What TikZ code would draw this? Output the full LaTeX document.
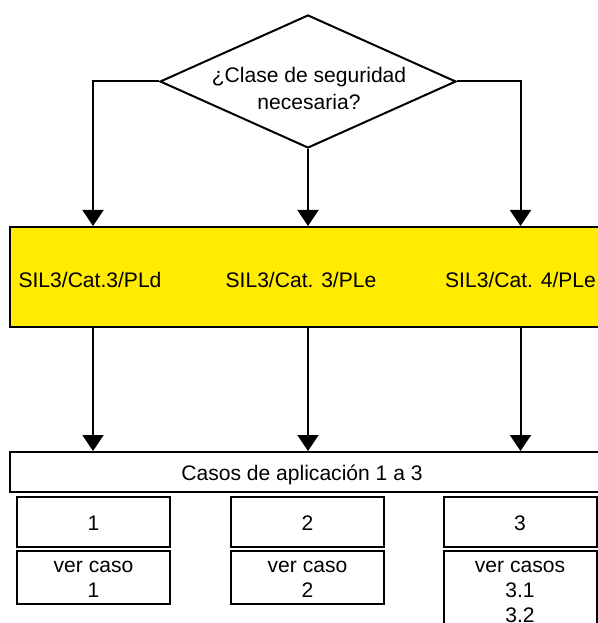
\documentclass[tikz,border=0pt]{standalone}
\usepackage{fontspec}
\setmainfont{Liberation Sans}
\usetikzlibrary{shapes.geometric,arrows.meta}
\newdimen\pxu \pxu=0.75pt
\definecolor{levelyellow}{RGB}{255,236,0}
\begin{document}
\begin{tikzpicture}[x=0.75pt,y=-0.75pt,
  line width=1.5pt,
  every node/.style={inner sep=0pt},
  % text nodes are placed by the baseline of their last line
  txt/.style={font=\fontsize{15.8}{18.75}\selectfont, anchor=base, align=center},
  box/.style={draw, rectangle, minimum width=153\pxu, minimum height=50\pxu},
  flow/.style={-{Triangle[width=15.75pt,length=12pt]}},
]
\useasboundingbox (0,0) rectangle (598,623);
\clip (0,0) rectangle (598,623);

% column positions
\coordinate (c1) at (93,0);
\coordinate (c3) at (520.5,0);

% decision
\node[diamond, draw, shape aspect=2.2, minimum width=296\pxu, minimum height=133\pxu]
  (q) at (308,81.5) {};
\node[txt, font=\fontsize{15.8}{20.25}\selectfont] (qtxt) at (309,110) {¿Clase de seguridad\\necesaria?};

% safety levels
\node[draw, fill=levelyellow, minimum width=620\pxu, minimum height=100\pxu] (lvl) at (319.5,277) {};
\node[txt] (s1) at (90,287) {SIL3/Cat.3/PLd};
\node[txt] (s2) at (301,287) {SIL3/Cat. 3/PLe};
\node[txt] (s3) at (520.5,287) {SIL3/Cat. 4/PLe};

% application cases
\node[draw, minimum width=620\pxu, minimum height=40\pxu] (cas) at (319.5,472) {};
\node[txt] (castxt) at (302,480) {Casos de aplicación 1 a 3};

\node[box] (n1) at (93.5,522) {};
\node[box] (n2) at (307.5,522) {};
\node[box] (n3) at (520,522) {};
\node[txt] (n1t) at (93.5,530.5) {1};
\node[txt] (n2t) at (307.5,530.5) {2};
\node[txt] (n3t) at (520,530.5) {3};

\node[box, minimum height=53\pxu] (v1) at (93.5,577.5) {};
\node[box, minimum height=53\pxu] (v2) at (307.5,577.5) {};
\node[box, minimum height=82\pxu] (v3) at (520,592) {};
\node[txt] (v1t) at (93.5,597) {ver caso\\1};
\node[txt] (v2t) at (307.5,597) {ver caso\\2};
\node[txt] (v3t) at (520,622) {ver casos\\3.1\\3.2};

% connectors
\draw[flow] (q.west) -| (lvl.north -| c1);
\draw[flow] (q.south) -- (lvl.north -| q.south);
\draw[flow] (q.east) -| (lvl.north -| c3);
\draw[flow] (lvl.south -| c1) -- (cas.north -| c1);
\draw[flow] (lvl.south -| q.south) -- (cas.north -| q.south);
\draw[flow] (lvl.south -| c3) -- (cas.north -| c3);
\end{tikzpicture}
\end{document}
